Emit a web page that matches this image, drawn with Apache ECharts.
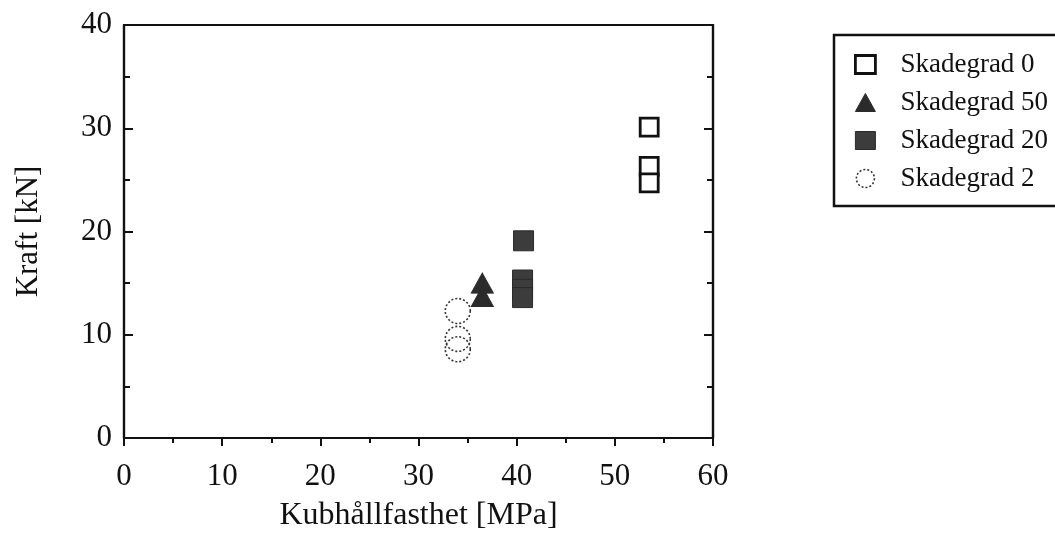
<!DOCTYPE html>
<html>
<head>
<meta charset="utf-8">
<script src="https://cdn.jsdelivr.net/npm/echarts@6/dist/echarts.min.js"></script>
<style>
  html, body { margin: 0; padding: 0; background: #fff; }
  #chart { width: 1055px; height: 537px; }
</style>
</head>
<body>
<div id="chart"></div>
<script>
// Kubhållfasthet [MPa] vs Kraft [kN], one series per damage grade
const seriesNames = ['Skadegrad 0', 'Skadegrad 50', 'Skadegrad 20', 'Skadegrad 2'];
const grad0  = [[53.5, 30.1], [53.5, 26.3], [53.5, 24.7]];
const grad50 = [[36.5, 15.0], [36.5, 13.7]];
const grad20 = [[40.7, 19.1], [40.6, 15.3], [40.6, 14.4], [40.6, 13.6]];
const grad2  = [[34.0, 12.3], [34.0, 9.6], [34.0, 8.6]];
const xTicks = [0, 10, 20, 30, 40, 50, 60];
const yTicks = [0, 10, 20, 30, 40];

const serif = 'Liberation Serif';
const ink = '#111';

const chart = echarts.init(document.getElementById('chart'), null, { renderer: 'canvas' });

const tickLabel = { fontFamily: serif, fontSize: 31, color: ink };
const nameStyle = { fontFamily: serif, fontSize: 31, color: ink };

const squareStyle = { color: '#fff', borderColor: ink, borderWidth: 2.8, opacity: 1 };
const triangleStyle = { color: '#2b2b2b', borderColor: '#2b2b2b', borderWidth: 1, opacity: 1 };
const filledStyle = { color: '#3c3c3c', borderColor: '#2a2a2a', borderWidth: 1, opacity: 1 };
const circleStyle = { color: 'rgba(255,255,255,0)', borderColor: '#333', borderWidth: 1.6, borderType: [2, 2], opacity: 1 };
const styles = [squareStyle, triangleStyle, filledStyle, circleStyle];

chart.setOption({
  animation: false,
  backgroundColor: '#fff',
  grid: {
    left: 124, right: 342, top: 25, bottom: 96,
    show: true, borderColor: ink, borderWidth: 2.2, backgroundColor: 'transparent'
  },
  legend: {
    data: seriesNames.map((n, i) => ({ name: n, itemStyle: styles[i] })),
    orient: 'vertical',
    left: 834, top: 35,
    padding: [16, 80, 14, 20],
    borderColor: ink, borderWidth: 2.5,
    itemWidth: 20, itemHeight: 18,
    itemGap: 11,
    textStyle: { fontFamily: serif, fontSize: 27, color: ink, padding: [0, 0, 0, 20] }
  },
  xAxis: [{
    type: 'value', min: xTicks[0], max: xTicks[xTicks.length - 1], interval: 10,
    name: 'Kubhållfasthet [MPa]', nameLocation: 'middle', nameGap: 62, nameMoveOverlap: false,
    nameTextStyle: { ...nameStyle, fontSize: 32 },
    axisLine: { show: true, onZero: false, lineStyle: { color: ink, width: 2.2 } },
    axisTick: { show: true, inside: false, length: 8, lineStyle: { color: ink, width: 2 } },
    minorTick: { show: true, splitNumber: 2, length: 5, lineStyle: { color: ink, width: 2 } },
    axisLabel: { ...tickLabel, margin: 23 },
    splitLine: { show: false }
  }],
  yAxis: [{
    type: 'value', min: yTicks[0], max: yTicks[yTicks.length - 1], interval: 10,
    name: 'Kraft [kN]', nameLocation: 'middle', nameGap: 80, nameRotate: 90, nameMoveOverlap: false,
    nameTextStyle: nameStyle,
    axisLine: { show: true, onZero: false, lineStyle: { color: ink, width: 2.2 } },
    axisTick: { show: true, inside: true, length: 9, lineStyle: { color: ink, width: 2 } },
    minorTick: { show: true, splitNumber: 2, length: 6, lineStyle: { color: ink, width: 2 } },
    axisLabel: { ...tickLabel, margin: 12 },
    splitLine: { show: false }
  }, {
    type: 'value', position: 'right', min: yTicks[0], max: yTicks[yTicks.length - 1], interval: 10,
    axisLine: { show: true, onZero: false, lineStyle: { color: ink, width: 2.2 } },
    axisTick: { show: true, inside: true, length: 9, lineStyle: { color: ink, width: 2 } },
    minorTick: { show: true, splitNumber: 2, length: 6, lineStyle: { color: ink, width: 2 } },
    axisLabel: { show: false },
    splitLine: { show: false }
  }],
  series: [
    { name: seriesNames[0], type: 'scatter', data: grad0, symbol: 'rect', symbolSize: 18, itemStyle: squareStyle },
    { name: seriesNames[1], type: 'scatter', data: grad50, symbol: 'triangle', symbolSize: [22, 20], itemStyle: triangleStyle },
    { name: seriesNames[2], type: 'scatter', data: grad20, symbol: 'rect', symbolSize: 20, itemStyle: filledStyle },
    { name: seriesNames[3], type: 'scatter', data: grad2, symbol: 'circle', symbolSize: 25, itemStyle: circleStyle }
  ]
});
</script>
</body>
</html>
